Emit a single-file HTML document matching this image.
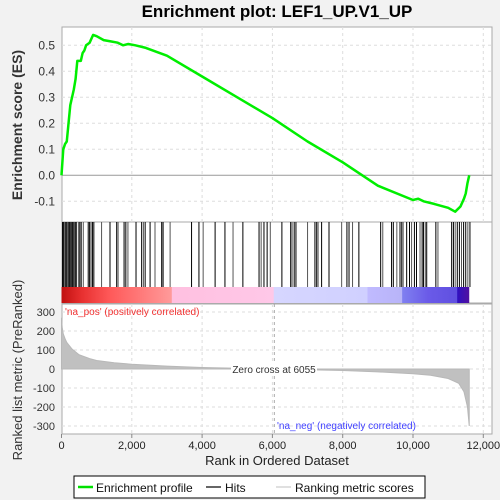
<!DOCTYPE html>
<html><head><meta charset="utf-8"><style>
body{margin:0;background:#f2f2f2;font-family:"Liberation Sans",sans-serif;}
svg{display:block}
</style></head><body>
<svg id="c" width="500" height="500" xmlns="http://www.w3.org/2000/svg">
<rect x="0" y="0" width="500" height="500" fill="#f2f2f2"/>
<text x="277" y="17" text-anchor="middle" font-size="17" font-weight="bold" fill="#000">Enrichment plot: LEF1_UP.V1_UP</text>
<rect x="62" y="27" width="430" height="195" fill="#fff" stroke="#aaa"/>
<rect x="62" y="222" width="430" height="81" fill="#fff" stroke="#aaa"/>
<rect x="62" y="304" width="430" height="130" fill="#fff" stroke="#aaa"/>
<defs><linearGradient id="cb" x1="0" x2="1">
<stop offset="0" stop-color="#c01010"/><stop offset="0.05" stop-color="#e83030"/><stop offset="0.12" stop-color="#ff5a5a"/><stop offset="0.27" stop-color="#ff9a9a"/>
<stop offset="0.271" stop-color="#ffc0e0"/><stop offset="0.52" stop-color="#ffc8e8"/>
<stop offset="0.521" stop-color="#d6d6ff"/><stop offset="0.75" stop-color="#d0d0ff"/>
<stop offset="0.751" stop-color="#c0baff"/><stop offset="0.835" stop-color="#b8b4f8"/>
<stop offset="0.836" stop-color="#8080f0"/><stop offset="0.9" stop-color="#6a5ae8"/><stop offset="0.97" stop-color="#6050e0"/>
<stop offset="0.971" stop-color="#3010c0"/><stop offset="1" stop-color="#5010a0"/>
</linearGradient></defs>
<g id="g"></g>
<text x="22" y="125" transform="rotate(-90 22 125)" text-anchor="middle" font-size="14" font-weight="bold" fill="#333">Enrichment score (ES)</text>
<text x="22" y="370" transform="rotate(-90 22 370)" text-anchor="middle" font-size="13" fill="#333">Ranked list metric (PreRanked)</text>
<text x="277" y="465" text-anchor="middle" font-size="13" fill="#222">Rank in Ordered Dataset</text>
<text x="65" y="315" font-size="10" fill="#f03030">'na_pos' (positively correlated)</text>
<text x="277" y="429" font-size="10" fill="#4040ff">'na_neg' (negatively correlated)</text>
<g>
<rect x="74" y="476" width="351" height="22" fill="#fff" stroke="#000"/>
<line x1="78" y1="487" x2="93" y2="487" stroke="#00e000" stroke-width="2.5"/>
<text x="96" y="492" font-size="12" fill="#111">Enrichment profile</text>
<line x1="206" y1="487" x2="221" y2="487" stroke="#000" stroke-width="1.2"/>
<text x="225" y="492" font-size="12" fill="#111">Hits</text>
<line x1="276" y1="487" x2="291" y2="487" stroke="#ccc" stroke-width="1.2"/>
<text x="295" y="492" font-size="12" fill="#111">Ranking metric scores</text>
</g>
</svg>
<script>
const esRanks=[0,50,100,150,200,250,300,350,400,450,550,600,650,700,800,900,1000,1200,1400,1600,1750,1900,2100,2400,3000,4000,5000,6000,7000,8000,9000,10000,10150,10300,10600,11000,11200,11350,11450,11500,11550,11600];
const esValues=[0,0.1,0.12,0.13,0.2,0.27,0.3,0.33,0.37,0.44,0.44,0.47,0.48,0.5,0.51,0.54,0.535,0.52,0.515,0.51,0.5,0.505,0.5,0.49,0.46,0.38,0.3,0.22,0.13,0.05,-0.04,-0.095,-0.09,-0.1,-0.11,-0.125,-0.14,-0.12,-0.09,-0.07,-0.03,0.0];
const metricRanks=[0,20,50,100,150,300,500,800,1000,1500,2000,3000,4000,5000,6055,7000,8000,9000,10000,10500,11000,11300,11450,11550,11600];
const metricValues=[270,220,185,160,140,105,75,55,45,33,25,15,8,4,0,-4,-8,-15,-25,-33,-50,-75,-120,-200,-300];
const hitRanks=[30,60,90,120,150,180,210,240,270,300,330,360,390,420,480,520,560,620,760,800,840,880,920,1140,1380,1570,1610,1780,1830,1890,2120,2280,2330,2380,2520,2660,2850,2890,3090,3700,3910,4030,4370,4650,4880,5160,5620,5680,5760,5850,5940,6270,6520,6560,6620,6670,7000,7210,7260,7300,7400,7610,7970,8120,8180,8280,8460,9080,9140,9390,9440,9540,9630,9680,9720,9820,9900,9960,10040,10100,10200,10260,10300,10350,10390,10650,10710,11100,11150,11200,11260,11320,11380,11440,11500,11560,11620];
const esTicks=[-0.1,0,0.1,0.2,0.3,0.4,0.5];
const metricTicks=[-300,-200,-100,0,100,200,300];
const xTicks=[0,2000,4000,6000,8000,10000,12000];
const xs=r=>61.5+r*0.03515;
const yEs=v=>175.3-v*260;
const yM=v=>369-v*0.19;
const NS='http://www.w3.org/2000/svg';
const g=document.getElementById('g');
function mk(t,a,p){const e=document.createElementNS(NS,t);for(const k in a)e.setAttribute(k,a[k]);(p||g).appendChild(e);return e;}
xTicks.forEach(t=>{if(t>0){
const l1=mk('line',{x1:xs(t),x2:xs(t),y1:27,y2:222,stroke:'#ddd','stroke-dasharray':'3,3'});

const l2=mk('line',{x1:xs(t),x2:xs(t),y1:304,y2:434,stroke:'#ddd','stroke-dasharray':'3,3'});
}
const tl=mk('text',{x:xs(t),y:449,'text-anchor':'middle','font-size':11,fill:'#222'});tl.textContent=t.toLocaleString('en-US');

mk('line',{x1:xs(t),x2:xs(t),y1:434,y2:438,stroke:'#888'});
});
esTicks.forEach(t=>{
const l=mk('line',{x1:62,x2:492,y1:yEs(t),y2:yEs(t),stroke:t===0?'#999':'#ddd','stroke-dasharray':t===0?'':'3,3'});

const tl=mk('text',{x:55,y:yEs(t)+4,'text-anchor':'end','font-size':12,fill:'#333'});tl.textContent=t.toFixed(1);

});
metricTicks.forEach(t=>{
const l=mk('line',{x1:62,x2:492,y1:yM(t),y2:yM(t),stroke:'#ddd','stroke-dasharray':'3,3'});

const tl=mk('text',{x:55,y:yM(t)+4,'text-anchor':'end','font-size':11,fill:'#333'});tl.textContent=t;

});
const cb=mk('rect',{x:xs(0),y:287,width:xs(11600)-xs(0),height:16,fill:'url(#cb)'});

hitRanks.forEach((r,i)=>{const h=mk('line',{x1:xs(r),x2:xs(r),y1:222,y2:287,stroke:i%3===2?'#555':'#000','stroke-width':1});
});
let d='M'+xs(metricRanks[0])+','+yM(0);
metricRanks.forEach((r,i)=>{d+=' L'+xs(r)+','+yM(metricValues[i]);});
d+=' L'+xs(metricRanks[metricRanks.length-1])+','+yM(0)+'Z';
const ar=mk('path',{d:d,fill:'#c0c0c0',stroke:'#b8b8b8'});

const zl=mk('line',{x1:xs(6055),x2:xs(6055),y1:304,y2:434,stroke:'#aaa','stroke-dasharray':'3,3'});

const zt=mk('rect',{x:231,y:363,width:86,height:12,fill:'#fff'});

const ztt=mk('text',{x:274,y:373,'text-anchor':'middle','font-size':10,fill:'#333'});ztt.textContent='Zero cross at 6055';

const pts=esRanks.map((r,i)=>xs(r)+','+yEs(esValues[i])).join(' ');
const es=mk('polyline',{points:pts,fill:'none',stroke:'#00ee00','stroke-width':2.5,'stroke-linejoin':'round'});

</script>
</body></html>
